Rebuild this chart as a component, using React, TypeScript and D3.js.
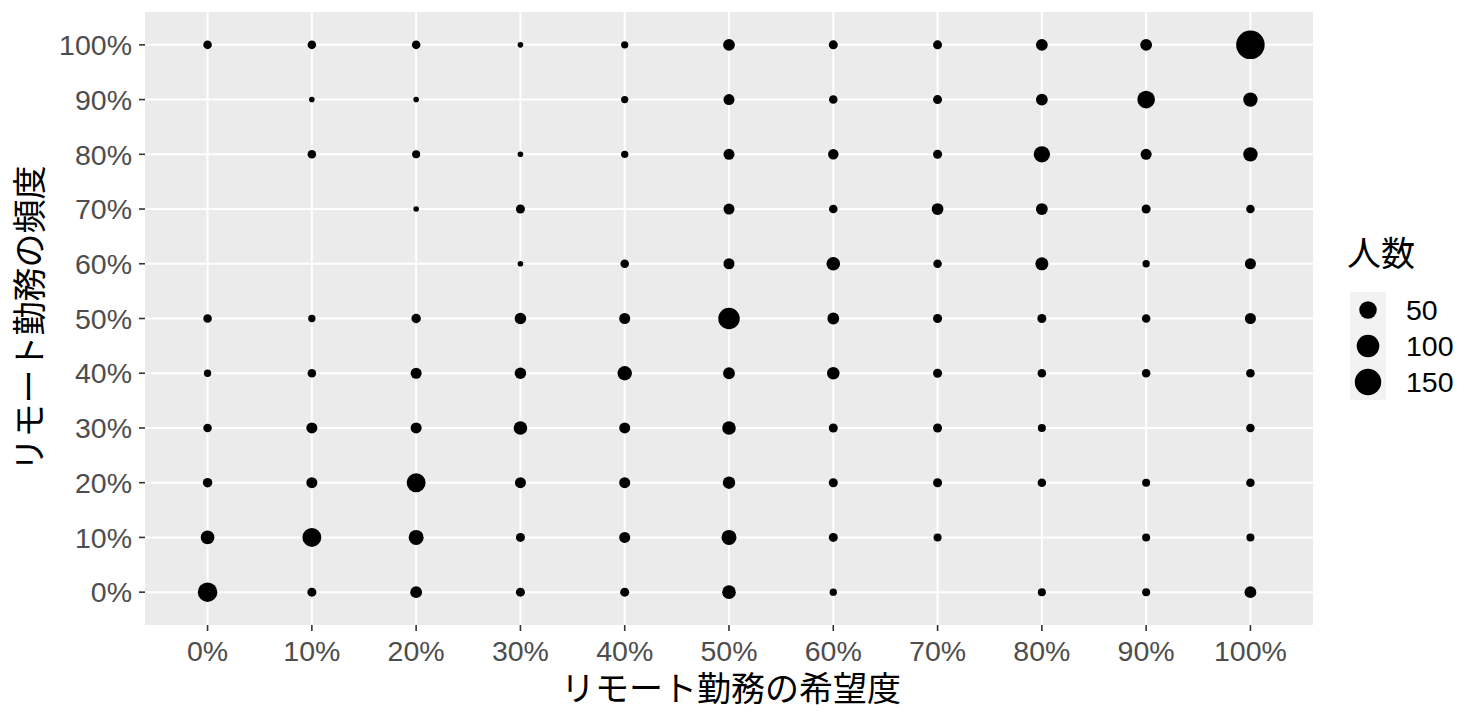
import React from "react";
import * as d3 from "d3";

// ---- data ----
const xCategories = ["0%", "10%", "20%", "30%", "40%", "50%", "60%", "70%", "80%", "90%", "100%"];
const yCategories = ["0%", "10%", "20%", "30%", "40%", "50%", "60%", "70%", "80%", "90%", "100%"];

// counts (人数) per frequency level (y), across desire levels (x = 0%..100%); null = no respondents
const row100 = [5, 5, 5, 2, 3, 15, 6, 6, 15, 15, 180];
const row90 = [null, 2, 2, null, 3, 12, 5, 6, 15, 51, 28];
const row80 = [null, 5, 4, 2, 3, 12, 10, 6, 41, 12, 28];
const row70 = [null, null, 2, 6, null, 12, 5, 15, 15, 6, 5];
const row60 = [null, null, null, 2, 5, 12, 24, 5, 21, 3, 12];
const row50 = [5, 3, 7, 14, 12, 88, 15, 6, 6, 5, 12];
const row40 = [3, 5, 12, 14, 28, 15, 18, 6, 5, 5, 5];
const row30 = [5, 12, 12, 24, 12, 24, 6, 6, 4, null, 5];
const row20 = [7, 12, 62, 12, 12, 18, 6, 6, 5, 4, 5];
const row10 = [24, 62, 32, 6, 12, 32, 6, 4, null, 4, 4];
const row0 = [68, 6, 15, 6, 6, 24, 3, null, 4, 4, 15];

const rows: (number | null)[][] = [row0, row10, row20, row30, row40, row50, row60, row70, row80, row90, row100];

const legendBreaks = [50, 100, 150];

const xTitle = "リモート勤務の希望度";
const yTitle = "リモート勤務の頻度";
const legendTitle = "人数";

type Pt = { x: string; y: string; n: number };
const points: Pt[] = [];
rows.forEach((r, yi) => {
  r.forEach((n, xi) => {
    if (n != null) points.push({ x: xCategories[xi], y: yCategories[yi], n });
  });
});

// ---- layout ----
const W = 1475;
const H = 720;
const panel = { left: 145, right: 1313, top: 12, bottom: 625 };

const latin = "'Liberation Sans', Arial, sans-serif";
const cjk = "'Noto Sans CJK JP', 'Noto Sans CJK SC', sans-serif";

export default function App() {
  const x = d3.scalePoint<string>().domain(xCategories).range([panel.left, panel.right]).padding(0.6);
  const y = d3.scalePoint<string>().domain(yCategories).range([panel.bottom, panel.top]).padding(0.6);

  const nMin = d3.min(points, (d) => d.n) as number;
  const nMax = d3.max(points, (d) => d.n) as number;
  // ggplot-like area palette: diameter linear in sqrt of rescaled value
  const norm = d3.scaleLinear().domain([nMin, nMax]).range([0, 1]).clamp(true);
  const diam = d3.scaleLinear().domain([0, 1]).range([5.6, 28.5]);
  const r = (n: number) => diam(Math.sqrt(norm(n))) / 2;

  const tickFont = 28.5;
  const titleFont = 34;

  const keyX0 = 1350;
  const keyW = 36;
  const keyTop = 292;
  const keyH = 36;

  return (
    <svg width={W} height={H} style={{ position: "absolute", left: 0, top: 0, background: "#fff" }}>
      <rect x={0} y={0} width={W} height={H} fill="#ffffff" />
      {/* panel */}
      <rect
        x={panel.left}
        y={panel.top}
        width={panel.right - panel.left}
        height={panel.bottom - panel.top}
        fill="#EBEBEB"
      />
      {/* grid */}
      {xCategories.map((c) => (
        <line key={"gx" + c} x1={x(c)} x2={x(c)} y1={panel.top} y2={panel.bottom} stroke="#fff" strokeWidth={2} />
      ))}
      {yCategories.map((c) => (
        <line key={"gy" + c} x1={panel.left} x2={panel.right} y1={y(c)} y2={y(c)} stroke="#fff" strokeWidth={2} />
      ))}
      {/* points */}
      {points.map((p, i) => (
        <circle key={i} cx={x(p.x)} cy={y(p.y)} r={r(p.n)} fill="#000" />
      ))}
      {/* x axis */}
      {xCategories.map((c) => (
        <g key={"tx" + c}>
          <line x1={x(c)} x2={x(c)} y1={panel.bottom} y2={panel.bottom + 6} stroke="#333" strokeWidth={1.6} />
          <text
            x={x(c)}
            y={661}
            textAnchor="middle"
            fontFamily={latin}
            fontSize={tickFont}
            fill="#4D4D4D"
          >
            {c}
          </text>
        </g>
      ))}
      {/* y axis */}
      {yCategories.map((c) => (
        <g key={"ty" + c}>
          <line x1={panel.left - 6} x2={panel.left} y1={y(c)} y2={y(c)} stroke="#333" strokeWidth={1.6} />
          <text
            x={132}
            y={(y(c) as number) + tickFont * 0.358}
            textAnchor="end"
            fontFamily={latin}
            fontSize={tickFont}
            fill="#4D4D4D"
          >
            {c}
          </text>
        </g>
      ))}
      {/* axis titles */}
      <text
        x={(panel.left + panel.right) / 2 + 2}
        y={701}
        textAnchor="middle"
        fontFamily={cjk}
        fontSize={titleFont}
        fill="#000"
      >
        {xTitle}
      </text>
      <text
        transform={`translate(42, ${(panel.top + panel.bottom) / 2}) rotate(-90)`}
        textAnchor="middle"
        fontFamily={cjk}
        fontSize={titleFont}
        fill="#000"
      >
        {yTitle}
      </text>
      {/* legend */}
      <text x={1347} y={266} fontFamily={cjk} fontSize={titleFont} fill="#000">
        {legendTitle}
      </text>
      {legendBreaks.map((b, i) => {
        const cy = keyTop + keyH * i + keyH / 2;
        return (
          <g key={"lg" + b}>
            <rect x={keyX0} y={keyTop + keyH * i} width={keyW} height={keyH} fill="#F2F2F2" />
            <circle cx={keyX0 + keyW / 2} cy={cy} r={r(b)} fill="#000" />
            <text
              x={1406}
              y={cy + tickFont * 0.358}
              fontFamily={latin}
              fontSize={tickFont}
              fill="#000"
            >
              {b}
            </text>
          </g>
        );
      })}
    </svg>
  );
}
